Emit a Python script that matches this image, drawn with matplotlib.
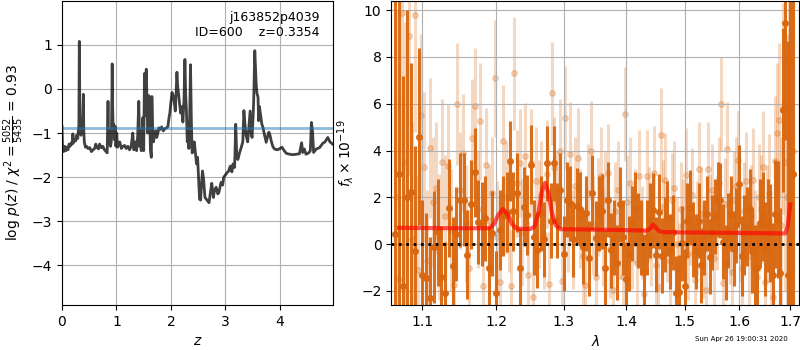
import numpy as np
import matplotlib
matplotlib.use('Agg')
import matplotlib.pyplot as plt
from matplotlib.ticker import NullLocator, FixedLocator, FixedFormatter

#%% p(z) curve
z_grid = [0.00, 0.01, 0.03, 0.05, 0.07, 0.09, 0.11, 0.13, 0.15, 0.17, 0.19, 0.20, 0.21, 0.23, 0.25,
          0.27, 0.29, 0.30, 0.31, 0.318, 0.326, 0.335, 0.35, 0.36, 0.375, 0.385, 0.392, 0.40, 0.41,
          0.43, 0.45, 0.48, 0.51, 0.54, 0.57, 0.60, 0.62, 0.64, 0.67, 0.69, 0.72, 0.75, 0.78, 0.81,
          0.83, 0.838, 0.845, 0.853, 0.865, 0.875, 0.89, 0.905, 0.915, 0.922, 0.93, 0.94, 0.95, 0.96,
          0.975, 0.99, 1.005, 1.02, 1.04, 1.06, 1.09, 1.12, 1.15, 1.18, 1.21, 1.24, 1.27, 1.30, 1.32,
          1.35, 1.37, 1.39, 1.41, 1.425, 1.44, 1.455, 1.47, 1.485, 1.50, 1.515, 1.525, 1.535, 1.548,
          1.56, 1.575, 1.585, 1.595, 1.61, 1.625, 1.64, 1.65, 1.665, 1.68, 1.70, 1.72, 1.74, 1.76,
          1.78, 1.80, 1.83, 1.86, 1.89, 1.92, 1.945, 1.965, 1.98, 2.00, 2.02, 2.04, 2.06, 2.08, 2.095,
          2.11, 2.125, 2.14, 2.16, 2.18, 2.20, 2.22, 2.24, 2.257, 2.27, 2.285, 2.30, 2.315, 2.33,
          2.345, 2.36, 2.375, 2.39, 2.41, 2.43, 2.45, 2.47, 2.49, 2.51, 2.526, 2.545, 2.565, 2.58,
          2.60, 2.625, 2.65, 2.70, 2.725, 2.75, 2.78, 2.80, 2.83, 2.86, 2.88, 2.92, 2.95, 2.97, 3.00,
          3.03, 3.06, 3.09, 3.12, 3.14, 3.17, 3.19, 3.21, 3.23, 3.26, 3.29, 3.32, 3.34, 3.36, 3.38,
          3.41, 3.43, 3.455, 3.475, 3.49, 3.51, 3.52, 3.54, 3.555, 3.566, 3.58, 3.60, 3.61, 3.625,
          3.645, 3.67, 3.69, 3.72, 3.75, 3.78, 3.80, 3.82, 3.84, 3.87, 3.90, 3.95, 3.99, 4.04, 4.08,
          4.12, 4.18, 4.24, 4.30, 4.36, 4.40, 4.42, 4.45, 4.48, 4.53, 4.56, 4.58, 4.60, 4.62, 4.67,
          4.73, 4.79, 4.83, 4.88, 4.92, 4.97]
log_pz = [-0.85, -1.35, -1.42, -1.30, -1.40, -1.32, -1.38, -1.25, -1.30, -1.22, -1.25, -1.02, -1.22,
          -1.15, -1.18, -1.05, -1.12, -0.95, -0.80, 1.08, -0.20, -0.95, -1.05, -0.85, -1.00, -0.60,
          -0.12, -0.95, -1.20, -1.32, -1.30, -1.35, -1.33, -1.42, -1.38, -1.35, -1.25, -1.32, -1.36,
          -1.25, -1.33, -1.30, -1.38, -1.42, -1.45, -0.90, -0.28, -1.10, -1.25, -0.95, -1.30, -1.20,
          -0.30, 0.57, -0.40, -0.95, -0.80, -1.15, -0.85, -1.30, -1.00, -1.32, -1.25, -1.20, -1.35,
          -1.30, -1.28, -1.35, -1.30, -1.38, -1.30, -1.00, -1.38, -1.20, -1.40, -1.05, -0.28, -1.30,
          -0.95, -1.40, -1.10, -0.65, -1.40, 0.35, -0.60, 0.20, 0.45, -0.30, -1.00, -0.85, -0.15,
          -0.70, -1.40, -1.55, -0.17, -0.90, -1.20, -1.05, -0.95, -1.10, -1.00, -0.88, -0.92, -0.86,
          -0.95, -0.90, -0.88, -0.85, -0.65, -0.55, -0.30, -0.08, -0.15, -0.28, -0.50, -0.10, 0.38,
          0.05, -0.10, -0.35, -0.55, -0.40, -0.75, -0.25, 0.67, -0.10, -0.50, -1.20, -0.90, -1.35,
          -0.60, 0.55, -0.70, -1.45, -1.40, -1.20, -1.45, -1.70, -1.55, -2.10, -2.50, -2.52, -2.10,
          -1.86, -2.05, -2.46, -2.50, -2.58, -2.35, -2.14, -2.46, -2.30, -2.23, -2.38, -2.35, -2.12,
          -2.18, -2.00, -1.95, -1.90, -1.86, -1.75, -1.88, -1.70, -1.78, -0.80, -1.55, -1.60, -1.45,
          -1.33, -1.20, -0.49, -0.80, -1.05, -1.20, -0.90, -0.50, -1.00, -1.10, -0.60, -0.26, 0.87,
          0.40, 0.11, -0.10, -0.19, -0.72, -0.40, -0.57, -0.80, -0.87, -1.05, -1.21, -1.05, -0.98,
          -1.05, -1.17, -1.30, -1.36, -1.38, -1.36, -1.32, -1.40, -1.46, -1.48, -1.49, -1.48, -1.47,
          -1.22, -1.44, -1.36, -1.48, -1.45, -1.40, -0.76, -0.95, -1.44, -1.36, -1.33, -1.23, -1.20,
          -1.10, -1.20, -1.25]
chi2_line = -0.89

#%% spectrum, main beam
wave_a = [1.065, 1.070, 1.075, 1.080, 1.085, 1.090, 1.095, 1.100, 1.105, 1.110, 1.115, 1.120, 1.125,
          1.130, 1.135, 1.140, 1.145, 1.150, 1.155, 1.160, 1.165, 1.170, 1.175, 1.180, 1.185, 1.190,
          1.195, 1.200, 1.205, 1.210, 1.215, 1.220, 1.225, 1.230, 1.235, 1.240, 1.245, 1.250, 1.255,
          1.260, 1.265, 1.270, 1.275, 1.280, 1.285, 1.290, 1.295, 1.300, 1.305, 1.310, 1.315, 1.320,
          1.325, 1.330, 1.335, 1.340, 1.345, 1.350, 1.355, 1.360, 1.365, 1.370, 1.375, 1.380, 1.385,
          1.390, 1.395, 1.400, 1.405, 1.410, 1.415, 1.420, 1.425, 1.430, 1.435, 1.440, 1.445, 1.450,
          1.455, 1.460, 1.465, 1.470, 1.475, 1.480, 1.485, 1.490, 1.495, 1.500, 1.505, 1.510, 1.515,
          1.520, 1.525, 1.530, 1.535, 1.540, 1.545, 1.550, 1.555, 1.560, 1.565, 1.570, 1.575, 1.580,
          1.585, 1.590, 1.595, 1.600, 1.605, 1.610, 1.615, 1.620, 1.625, 1.630, 1.635, 1.640, 1.645,
          1.650, 1.655, 1.660, 1.665, 1.670, 1.675, 1.680, 1.685, 1.690, 1.695, 1.700, 1.705]
flux_a = [0.43, 3.0, -1.8, 2.0, 2.25, -0.3, 4.6, -1.3, -1.45, -2.3, -0.12, 0.5, -1.42,
          -2.1, 1.55, -0.95, 0.43, 1.88, 1.9, -0.45, 1.7, 3.07, 0.96, 0.85, 1.1, -1.04,
          0.46, -2.1, 0.6, 1.2, 1.38, 3.55, 1.4, 2.2, -1.0, 1.6, 1.25, 3.4, 0.3,
          -0.26, 1.32, 0.2, 3.45, 1.0, 3.45, 1.0, 2.3, -0.4, 1.9, 1.74, 0.2, 1.65,
          1.5, -0.12, 1.32, -0.6, 2.2, 0.25, 1.3, 1.4, -1.0, 1.9, -0.26, 0.3, -0.8,
          1.7, 0.3, -1.5, -0.4, 0.9, 1.5, 0.6, 0.3, -1.2, 0.3, 1.0, 1.45, -0.45,
          1.38, -0.5, 0.4, 1.1, -0.3, 0.5, -2.1, -2.05, 0.04, -1.8, 1.0, 1.55, 0.2,
          -0.3, 1.0, -0.9, 0.3, 1.3, -0.54, 0.5, 1.2, 1.9, 1.88, 0.1, -0.8, 0.6,
          1.3, -0.2, 0.8, 2.55, -0.5, 0.4, 0.75, 1.5, -0.3, -1.0, -1.0, 0.9, 1.2,
          -0.2, 0.8, 0.47, -1.3, 1.3, 1.05, -1.25, 5.75, 9.45, -1.3, 7.8, 3.0]
err_a = [12, 10, 9, 8, 5.5, 4.5, 3.8, 3.2, 2.8, 2.6, 2.4, 2.3, 2.2,
         2.2, 2.1, 2.1, 2.0, 2.0, 2.0, 1.9, 1.9, 1.9, 1.8, 1.8, 1.8, 1.8,
         1.8, 1.8, 1.7, 1.7, 1.7, 1.7, 1.7, 1.7, 1.7, 1.7, 1.7, 1.7, 1.6,
         1.6, 1.6, 1.6, 1.6, 1.6, 1.6, 1.6, 1.6, 1.6, 1.6, 1.6, 1.6, 1.6,
         1.6, 1.6, 1.6, 1.6, 1.6, 1.6, 1.6, 1.6, 1.6, 1.6, 1.6, 1.6, 1.6,
         1.6, 1.6, 1.6, 1.6, 1.6, 1.6, 1.6, 1.6, 1.6, 1.6, 1.6, 1.6, 1.6,
         1.6, 1.6, 1.6, 1.6, 1.6, 1.6, 1.6, 1.6, 1.6, 1.6, 1.6, 1.6, 1.6,
         1.6, 1.6, 1.6, 1.6, 1.6, 1.6, 1.6, 1.6, 1.6, 1.6, 1.6, 1.6, 1.6,
         1.6, 1.6, 1.6, 1.7, 1.7, 1.7, 1.7, 1.7, 1.8, 1.8, 1.8, 1.9, 1.9,
         2.0, 2.0, 2.1, 2.2, 2.3, 2.5, 2.8, 3.5, 5, 10, 14, 20]

#%% spectrum, other beams (drawn faint)
wave_b = [1.066, 1.070, 1.074, 1.078, 1.082, 1.086, 1.090, 1.094, 1.098, 1.102, 1.106, 1.110, 1.114,
          1.118, 1.122, 1.126, 1.130, 1.134, 1.138, 1.142, 1.146, 1.150, 1.154, 1.158, 1.162, 1.166,
          1.170, 1.174, 1.178, 1.182, 1.186, 1.190, 1.194, 1.198, 1.202, 1.206, 1.210, 1.214, 1.218,
          1.222, 1.226, 1.230, 1.234, 1.238, 1.242, 1.246, 1.250, 1.254, 1.258, 1.262, 1.266, 1.270,
          1.274, 1.278, 1.282, 1.286, 1.290, 1.294, 1.298, 1.302, 1.306, 1.310, 1.314, 1.318, 1.322,
          1.326, 1.330, 1.334, 1.338, 1.342, 1.346, 1.350, 1.354, 1.358, 1.362, 1.366, 1.370, 1.374,
          1.378, 1.382, 1.386, 1.390, 1.394, 1.398, 1.402, 1.406, 1.410, 1.414, 1.418, 1.422, 1.426,
          1.430, 1.434, 1.438, 1.442, 1.446, 1.450, 1.454, 1.458, 1.462, 1.466, 1.470, 1.474, 1.478,
          1.482, 1.486, 1.490, 1.494, 1.498, 1.502, 1.506, 1.510, 1.514, 1.518, 1.522, 1.526, 1.530,
          1.534, 1.538, 1.542, 1.546, 1.550, 1.554, 1.558, 1.562, 1.566, 1.570, 1.574, 1.578, 1.582,
          1.586, 1.590, 1.594, 1.598, 1.602, 1.606, 1.610, 1.614, 1.618, 1.622, 1.626, 1.630, 1.634,
          1.638, 1.642, 1.646, 1.650, 1.654, 1.658, 1.662, 1.666, 1.670, 1.674, 1.678, 1.682, 1.686,
          1.690, 1.694, 1.698, 1.702, 1.706]
flux_b = [2.0, -1.5, 9.9, 3.5, 8.9, 0.2, 9.8, -1.1, 5.5, 3.3, -0.7, 4.1, 1.8, 2.4, 0.3, 3.5, 1.2,
          3.35, 0.6, -1.74, 6.0, 2.3, 3.9, 0.9, -1.03, 4.55, 5.9, 1.5, 5.25, -1.8, 3.4, 1.0, 2.2, 7.1,
          0.3, -1.6, 4.4, 2.0, 1.2, -1.8, 7.3, 2.6, 3.47, 0.5, 3.75, -1.33, 3.47, -2.24, 2.7, 1.3,
          2.1, 0.4, 3.0, -1.7, 6.45, 3.25, 1.8, 4.0, -1.57, 5.4, 1.0, 3.87, 0.2, 2.5, 3.7, 1.1, -0.5,
          -1.74, 2.2, 4.0, 0.8, -1.39, 1.6, 2.9, 0.3, 1.9, 3.05, -0.2, -1.96, 1.4, 2.3, 0.6, -1.41,
          5.57, 1.8, 2.6, 0.1, 1.2, -0.8, 2.9, 0.5, -2.14, 2.9, 1.3, 0.2, 3.05, -0.9, -1.84, 4.67,
          1.6, 2.75, 0.4, -0.7, 1.9, 2.4, 0.0, -1.1, 1.5, 0.8, 2.97, -0.4, 1.1, 2.1, -1.53, 0.7, 3.2,
          1.3, -0.3, -1.96, 3.2, 1.0, 2.3, -0.6, 0.9, 2.6, 6.0, -1.67, 1.7, 4.07, 0.3, -1.2, 1.9, 2.5,
          3.6, 0.5, -1.03, 1.4, 2.7, -0.5, 1.2, 2.75, 0.1, -1.4, 2.0, 1.5, 3.3, -1.6, 0.9, 2.2, -0.6,
          -2.24, 3.55, 4.75, 5.3, 0.8, 5.8, 3.5, 2.0, 5.0, -1.0, 4.0]
err_b = [8, 8, 7, 6, 6, 5, 5, 4, 3.5, 3.2, 3.0, 3.0, 2.8,
         2.8, 2.7, 2.7, 2.6, 2.6, 2.6, 2.6, 2.6, 2.5, 2.5, 2.5, 2.5, 2.5,
         2.5, 2.5, 2.5, 2.5, 2.4, 2.4, 2.4, 2.5, 2.4, 2.4, 2.4, 2.4, 2.4,
         2.4, 2.4, 2.3, 2.3, 2.3, 2.3, 2.3, 2.3, 2.3, 2.3, 2.3, 2.3, 2.3,
         2.3, 2.2, 2.2, 2.2, 2.2, 2.2, 2.2, 2.2, 2.2, 2.2, 2.1, 2.1, 2.1,
         2.1, 2.1, 2.1, 2.1, 2.1, 2.1, 2.1, 2.1, 2.1, 2.1, 2.1, 2.1, 2.1,
         2.1, 2.1, 2.1, 2.1, 2.1, 2.0, 2.0, 2.0, 2.0, 2.0, 2.0, 2.0, 2.0,
         2.0, 2.0, 2.0, 2.0, 2.0, 2.0, 2.0, 2.0, 2.0, 2.0, 2.0, 2.0, 2.0,
         2.0, 2.0, 2.0, 2.0, 2.0, 2.0, 2.0, 2.0, 2.0, 2.0, 2.0, 2.0, 2.0,
         2.0, 2.0, 2.0, 2.0, 2.0, 2.0, 2.0, 2.0, 2.0, 2.0, 2.0, 2.0, 2.0,
         2.0, 2.1, 2.1, 2.1, 2.1, 2.1, 2.1, 2.1, 2.2, 2.2, 2.2, 2.2, 2.3,
         2.3, 2.3, 2.4, 2.4, 2.5, 2.5, 2.6, 2.7, 2.8, 3.0, 3.3, 3.8, 4.5,
         5.5, 7, 9, 12, 15]

#%% best-fit model
wave_model = [1.070, 1.100, 1.150, 1.190, 1.197, 1.203, 1.210, 1.217, 1.223, 1.230, 1.250, 1.256,
              1.262, 1.267, 1.272, 1.277, 1.282, 1.288, 1.295, 1.350, 1.400, 1.435, 1.440, 1.445,
              1.450, 1.455, 1.462, 1.500, 1.600, 1.690, 1.695, 1.700]
flux_model = [0.70, 0.69, 0.68, 0.68, 0.85, 1.25, 1.50, 1.25, 0.85, 0.66, 0.65, 0.75, 1.40, 2.25,
              2.62, 2.20, 1.35, 0.80, 0.64, 0.62, 0.60, 0.58, 0.66, 0.84, 0.70, 0.56, 0.52, 0.50,
              0.48, 0.46, 0.80, 1.70]

lam_ticks = [1.1, 1.2, 1.3, 1.4, 1.5, 1.6, 1.7]

spec_color = '#d9670f'

fig = plt.figure(figsize=(8, 3.5), dpi=100)
ax1 = fig.add_axes([0.0775, 0.1286, 0.339, 0.869])
ax2 = fig.add_axes([0.489, 0.1286, 0.51, 0.869])

# left: p(z)
ax1.plot(z_grid, log_pz, color='k', alpha=0.75, linewidth=2)
ax1.axhline(chi2_line, color='tab:blue', alpha=0.5, linewidth=2)
ax1.set_xlim(0, 4.98)
ax1.set_ylim(-4.9, 2.0)
ax1.set_xticks([0, 1, 2, 3, 4])
ax1.set_yticks([-4, -3, -2, -1, 0, 1])
ax1.grid(True)
ax1.set_xlabel('$z$', fontsize=10)
ax1.set_ylabel(r'log $p(z)$ / $\chi^2 = \frac{5052}{5435}$ = 0.93', fontsize=10)
ax1.text(0.95, 0.965, 'j163852p4039\nID=600    z=0.3354', transform=ax1.transAxes,
         ha='right', va='top', fontsize=9, linespacing=1.2)

# right: spectrum
ax2.errorbar(wave_b, flux_b, yerr=err_b, fmt='o', color=spec_color, alpha=0.25,
             markersize=4, elinewidth=2.2, capsize=0, zorder=1)
ax2.errorbar(wave_a, flux_a, yerr=err_a, fmt='o', color=spec_color, alpha=0.95,
             markersize=4, elinewidth=2.2, capsize=0, zorder=2)
ax2.plot(wave_model, flux_model, color='r', alpha=0.65, linewidth=3, zorder=3)
ax2.axhline(0, color='k', linestyle=':', linewidth=2, zorder=4)
ax2.set_xscale('log')
ax2.set_xlim(1.06, 1.718)
ax2.set_ylim(-2.6, 10.4)
ax2.xaxis.set_major_locator(FixedLocator(lam_ticks))
ax2.xaxis.set_major_formatter(FixedFormatter([str(t) for t in lam_ticks]))
ax2.xaxis.set_minor_locator(NullLocator())
ax2.set_yticks([-2, 0, 2, 4, 6, 8, 10])
ax2.grid(True)
ax2.set_xlabel(r'$\lambda$', fontsize=10)
ax2.set_ylabel(r'$f_\lambda\times 10^{-19}$', fontsize=10)

fig.text(0.985, 0.03, 'Sun Apr 26 19:00:31 2020', ha='right', va='center', fontsize=5)

fig.savefig('out.png', dpi=100)
